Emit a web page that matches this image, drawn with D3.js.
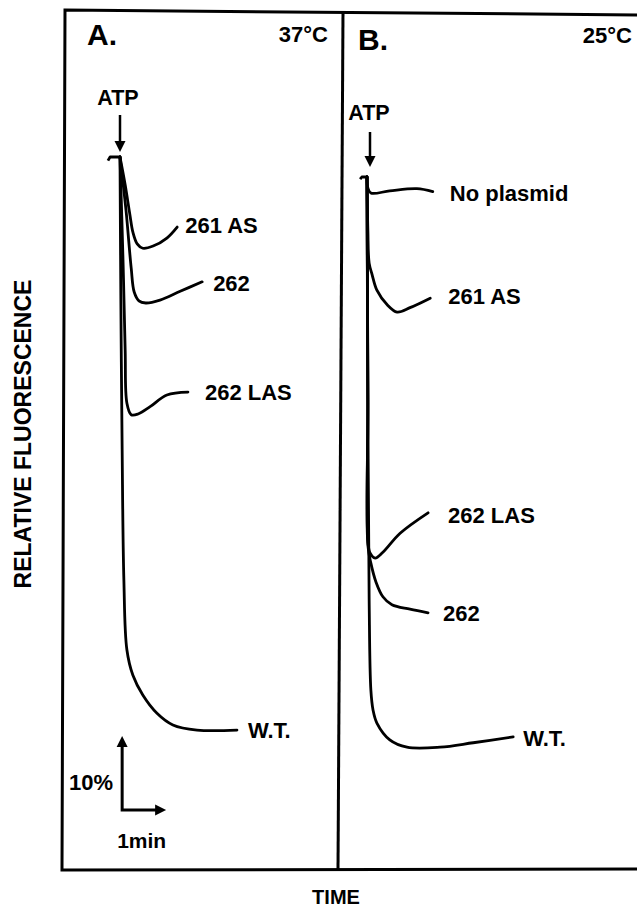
<!DOCTYPE html>
<html>
<head>
<meta charset="utf-8">
<script src="https://cdn.jsdelivr.net/npm/d3@7"></script>
<style>
  html, body { margin: 0; padding: 0; background: #fff; }
  svg { display: block; }
  text { font-family: "Liberation Sans", Arial, Helvetica, sans-serif; font-weight: bold; fill: #000; }
</style>
</head>
<body>
<svg id="chart" width="637" height="909"></svg>
<script>
// ---------------- DATA (time in min after ATP, relative fluorescence in %) ----------------
const panelTitles = ["A.", "B."];
const panelTemps = ["37°C", "25°C"];
const yAxisLabel = "RELATIVE FLUORESCENCE";
const xAxisLabel = "TIME";
const scaleBarLabels = ["10%", "1min"];
const scaleBarValues = [10, 1]; // 10 % and 1 min

// Panel A (37°C)
const aBaseline = [[-0.28, 99.5], [-0.23, 100], [0, 100]];
const a261AS   = [[0,100],[0.12,96.2],[0.23,92.1],[0.30,89.7],[0.40,88.1],[0.53,87.5],[0.77,87.8],[1.09,88.9],[1.33,90.4]];
const a262     = [[0,100],[0.14,92.7],[0.26,84.8],[0.33,81.5],[0.44,80.3],[0.60,80.0],[0.93,80.4],[1.40,81.6],[1.91,82.9]];
const a262LAS  = [[0,100],[0.07,85.9],[0.12,73.6],[0.16,66.3],[0.26,64.7],[0.42,64.8],[0.70,65.8],[1.09,67.4],[1.58,67.8]];
const aWT      = [[0,100],[0.02,80.4],[0.05,59.9],[0.09,42.1],[0.16,32.5],[0.30,29.0],[0.53,26.3],[0.86,23.8],[1.23,22.2],[1.79,21.5],[2.72,21.5]];
const aLabels  = ["261 AS", "262", "262 LAS", "W.T."];

// Panel B (25°C)
const bBaseline  = [[-0.16, 99.7], [-0.12, 100], [0, 100]];
const bNoPlasmid = [[0,100],[0.02,98.5],[0.09,97.8],[0.53,98.1],[1.16,98.4],[1.53,98.0]];
const b261AS     = [[0,100],[0.02,92.7],[0.05,88.2],[0.12,86.6],[0.23,84.5],[0.47,82.5],[0.70,81.5],[1.00,82.1],[1.47,83.4]];
const b262LAS    = [[0,100],[0.02,69.5],[0.02,50.3],[0.07,48.5],[0.19,47.8],[0.37,48.6],[0.77,51.2],[1.42,54.0]];
const b262       = [[0,100],[0.02,69.5],[0.02,49.6],[0.09,47.1],[0.21,44.5],[0.37,42.5],[0.58,41.4],[1.00,40.8],[1.42,40.3]];
const bWT        = [[0,100],[0.02,69.5],[0.05,42.1],[0.09,29.7],[0.14,27.0],[0.23,25.2],[0.53,22.9],[0.93,21.9],[1.70,21.9],[2.47,22.5],[3.40,23.3]];
const bLabels    = ["No plasmid", "261 AS", "262 LAS", "262", "W.T."];

// ---------------- LAYOUT / STYLE ----------------
const svg = d3.select("#chart");
const pxPerMin = 43, pxPerPct = 7.3;

const panels = [
  { x0: 120, y0: 157, series: [a261AS, a262, a262LAS, aWT], labels: aLabels,
    labelDx: [8, 11, 17, 11], labelDy: [-2, 1, 0, 0], baseline: aBaseline,
    title: [87, 45], temp: [328, 42], atp: [118, 105], arrow: [120, 115, 152] },
  { x0: 367, y0: 177, series: [bNoPlasmid, b261AS, b262LAS, b262, bWT], labels: bLabels,
    labelDx: [17, 18, 20, 15, 10], labelDy: [1, -2, 2, 0, 1], baseline: bBaseline,
    title: [358, 50], temp: [632, 43], atp: [369, 120], arrow: [370, 132, 167] }
];

// Frame (scanned, slightly tilted)
const frame = svg.append("g").attr("fill", "none").attr("stroke", "#000").attr("stroke-width", 3);
frame.append("path").attr("d", "M65,10 L645,15 L645,869 L62,870 Z");
frame.append("path").attr("d", "M343,12 L338,870");

const line = d3.line().curve(d3.curveCatmullRom.alpha(0.5));

function arrowHead(g, x, y, dir) {
  const s = 5.5, l = 11;
  let pts;
  if (dir === "down") pts = [[x, y], [x - s, y - l], [x + s, y - l]];
  if (dir === "up") pts = [[x, y], [x - s, y + l], [x + s, y + l]];
  if (dir === "right") pts = [[x, y], [x - l, y - s], [x - l, y + s]];
  g.append("path").attr("d", "M" + pts.map(p => p.join(",")).join("L") + "Z").attr("fill", "#000");
}

panels.forEach((p, i) => {
  const x = d3.scaleLinear().domain([0, 1]).range([p.x0, p.x0 + pxPerMin]);
  const y = d3.scaleLinear().domain([100, 90]).range([p.y0, p.y0 + 10 * pxPerPct]);
  const g = svg.append("g");

  // titles
  g.append("text").attr("x", p.title[0]).attr("y", p.title[1]).attr("font-size", 30).text(panelTitles[i]);
  g.append("text").attr("x", p.temp[0]).attr("y", p.temp[1]).attr("font-size", 22).attr("text-anchor", "end").text(panelTemps[i]);

  // ATP marker
  g.append("text").attr("x", p.atp[0]).attr("y", p.atp[1]).attr("font-size", 21.5).attr("text-anchor", "middle").text("ATP");
  g.append("line").attr("x1", p.arrow[0]).attr("x2", p.arrow[0]).attr("y1", p.arrow[1]).attr("y2", p.arrow[2] - 8)
    .attr("stroke", "#000").attr("stroke-width", 2.5);
  arrowHead(g, p.arrow[0], p.arrow[2], "down");

  // pre-ATP baseline hook
  g.append("path").attr("d", d3.line()(p.baseline.map(d => [x(d[0]), y(d[1])])))
    .attr("fill", "none").attr("stroke", "#000").attr("stroke-width", 2.8).attr("stroke-linejoin", "round");

  // traces
  p.series.forEach((s, k) => {
    g.append("path").attr("d", line(s.map(d => [x(d[0]), y(d[1])])))
      .attr("fill", "none").attr("stroke", "#000").attr("stroke-width", 2.8)
      .attr("stroke-linecap", "round").attr("stroke-linejoin", "round");
    const last = s[s.length - 1];
    g.append("text").attr("x", x(last[0]) + p.labelDx[k]).attr("y", y(last[1]) + p.labelDy[k])
      .attr("dy", "0.36em").attr("font-size", 22).text(p.labels[k]);
  });

  // scale bar (panel A only)
  if (i === 0) {
    const ox = 0.05, oy = 10.55;
    const sb = svg.append("g");
    sb.append("path")
      .attr("d", `M${x(ox)},${y(oy + scaleBarValues[0]) + 8} L${x(ox)},${y(oy)} L${x(ox + scaleBarValues[1]) - 8},${y(oy)}`)
      .attr("fill", "none").attr("stroke", "#000").attr("stroke-width", 3);
    arrowHead(sb, x(ox), y(oy + scaleBarValues[0]) - 1, "up");
    arrowHead(sb, x(ox + scaleBarValues[1]) + 1, y(oy), "right");
    sb.append("text").attr("x", x(ox) - 9).attr("y", y(oy + scaleBarValues[0] / 2) + 17)
      .attr("font-size", 22).attr("text-anchor", "end").text(scaleBarLabels[0]);
    sb.append("text").attr("x", x(ox) - 5).attr("y", y(oy) + 38)
      .attr("font-size", 21).text(scaleBarLabels[1]);
  }
});

// axis labels
svg.append("text").attr("transform", "translate(31,434) rotate(-90)")
  .attr("text-anchor", "middle").attr("font-size", 23).text(yAxisLabel);
svg.append("text").attr("x", 336).attr("y", 904).attr("text-anchor", "middle")
  .attr("font-size", 20).text(xAxisLabel);
</script>
</body>
</html>
